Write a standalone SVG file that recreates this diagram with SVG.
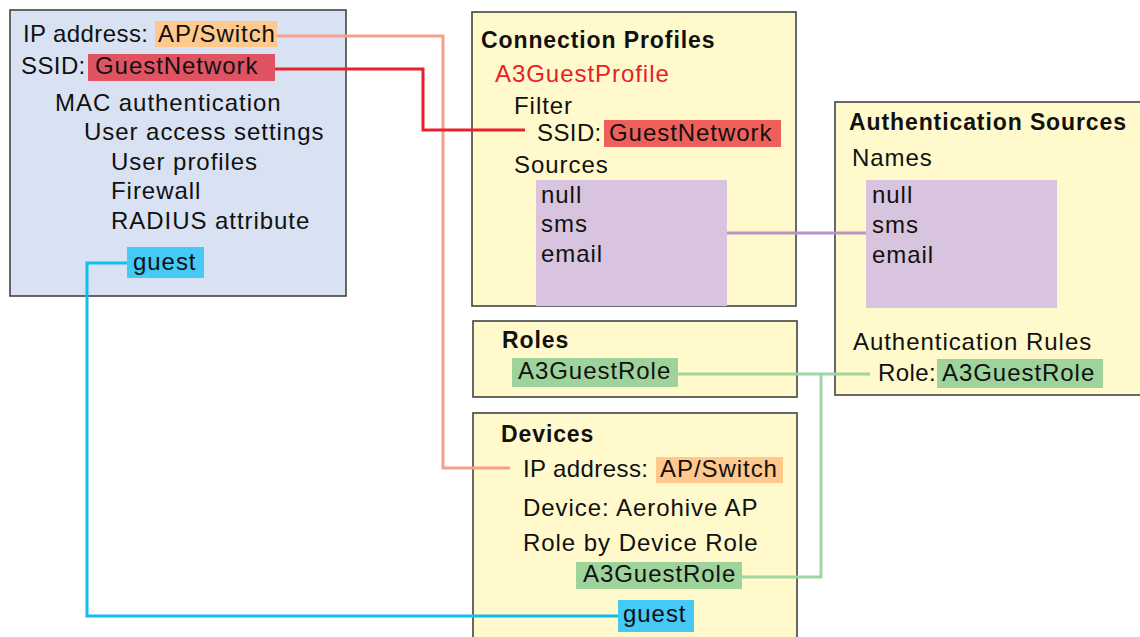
<svg xmlns="http://www.w3.org/2000/svg" width="1140" height="637" viewBox="0 0 1140 637">
<style>
text{font-family:"Liberation Sans",Arial,sans-serif;font-size:24px;fill:#111;letter-spacing:0.95px}
.b{font-size:23px;font-weight:bold;letter-spacing:0.9px}
.l{letter-spacing:0.4px}
.box{stroke:#444;stroke-width:1.6}
.y{fill:#FFF9CC}
.bl{fill:#D9E2F3}
.org{fill:#FFC88C}
.red1{fill:#E05362}
.red2{fill:#F0605A}
.cy{fill:#45C9F5}
.gr{fill:#9ED39C}
.pu{fill:#D9C4E0}
.c{fill:none;stroke-width:3;stroke-linejoin:miter}
</style>
<rect width="1140" height="637" fill="#fff"/>
<g id="mobile">
<rect class="box bl" x="10" y="10" width="336" height="286"/>
<rect class="org" x="155" y="21" width="122" height="26"/>
<rect class="red1" x="88" y="54" width="187" height="27"/>
<rect class="cy" x="127" y="247" width="77" height="31"/>
<text class="l" x="23" y="42">IP address:</text>
<text x="158" y="42">AP/Switch</text>
<text class="l" x="21" y="74">SSID:</text>
<text x="95" y="74">GuestNetwork</text>
<text x="55" y="111">MAC authentication</text>
<text x="84" y="140">User access settings</text>
<text x="111" y="170">User profiles</text>
<text x="111" y="199">Firewall</text>
<text x="111" y="229">RADIUS attribute</text>
<text x="133" y="270">guest</text>
</g>
<g id="connection-profiles">
<rect class="box y" x="472" y="12" width="324" height="294"/>
<rect class="red2" x="604" y="120" width="177" height="27"/>
<rect class="pu" x="536" y="180" width="191" height="126"/>
<text class="b" x="481" y="48">Connection Profiles</text>
<text x="495" y="82" style="fill:#E8202A">A3GuestProfile</text>
<text x="514" y="114">Filter</text>
<text class="l" x="537" y="141">SSID:</text>
<text x="609" y="141">GuestNetwork</text>
<text x="514" y="173">Sources</text>
<text x="541" y="203">null</text>
<text x="541" y="232">sms</text>
<text x="541" y="262">email</text>
</g>
<g id="authentication-sources">
<rect class="box y" x="835" y="102" width="320" height="293"/>
<rect class="pu" x="866" y="180" width="191" height="128"/>
<rect class="gr" x="937" y="359" width="166" height="29"/>
<text class="b" x="849" y="130">Authentication Sources</text>
<text x="852" y="166">Names</text>
<text x="872" y="203">null</text>
<text x="872" y="233">sms</text>
<text x="872" y="263">email</text>
<text x="853" y="350">Authentication Rules</text>
<text class="l" x="878" y="381">Role:</text>
<text x="942" y="381">A3GuestRole</text>
</g>
<g id="roles">
<rect class="box y" x="473" y="321" width="324" height="76"/>
<rect class="gr" x="512" y="358" width="166" height="29"/>
<text class="b" x="502" y="348">Roles</text>
<text x="518" y="379">A3GuestRole</text>
</g>
<g id="devices">
<rect class="box y" x="473" y="413" width="324" height="240"/>
<rect class="org" x="656" y="457" width="127" height="26"/>
<rect class="gr" x="576" y="562" width="166" height="27"/>
<rect class="cy" x="618" y="600" width="76" height="32"/>
<text class="b" x="501" y="442">Devices</text>
<text class="l" x="523" y="477">IP address:</text>
<text x="660" y="477">AP/Switch</text>
<text x="523" y="516">Device: Aerohive AP</text>
<text x="523" y="551">Role by Device Role</text>
<text x="583" y="582">A3GuestRole</text>
<text x="623" y="622">guest</text>
</g>
<g id="connectors">
<polyline class="c" stroke="#F5A088" points="277,36 443,36 443,468 510,468"/>
<polyline class="c" stroke="#E8202A" points="275,69 423,69 423,130 525,130"/>
<polyline class="c" stroke="#12BDF2" points="127,263 87,263 87,616 618,616"/>
<polyline class="c" stroke="#B993C4" points="727,233 866,233"/>
<polyline class="c" stroke="#A0D6A2" points="678,374 870,374"/>
<polyline class="c" stroke="#A0D6A2" points="821,374 821,577 742,577"/>
</g>
</svg>
